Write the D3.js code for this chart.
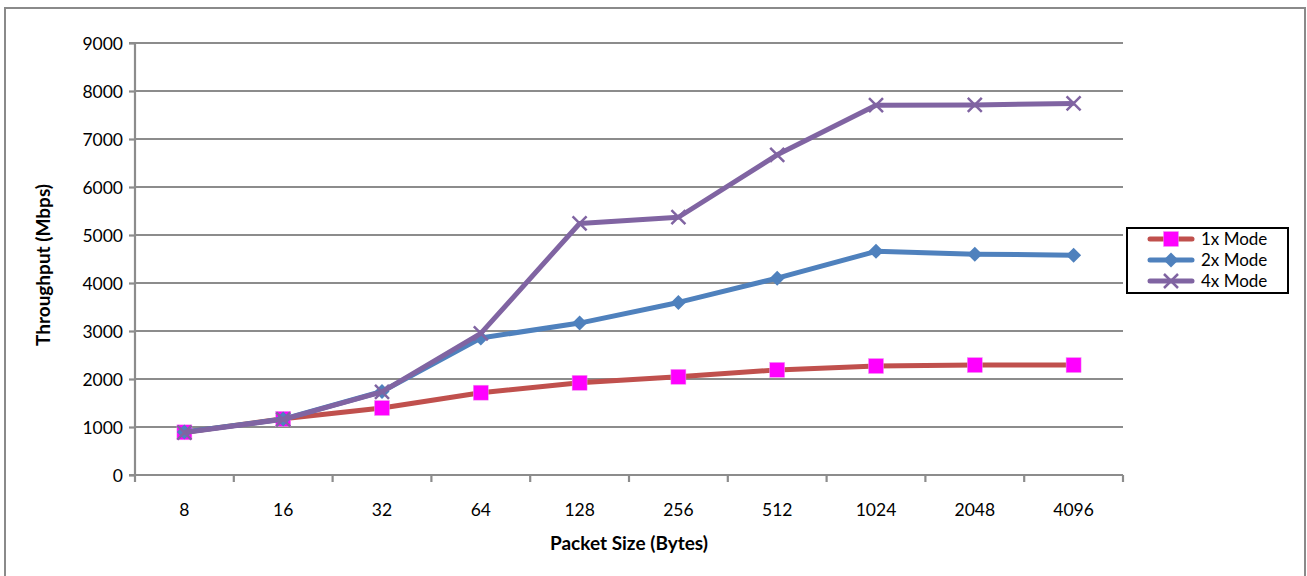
<!DOCTYPE html>
<html><head><meta charset="utf-8">
<script src="https://cdn.jsdelivr.net/npm/d3@7"></script>
<style>body{margin:0;background:#fff}svg{display:block}text{font-family:Lato,"Open Sans",sans-serif}</style>
</head><body><svg id="c" width="1307" height="576"></svg>
<script>
const categories = ["8","16","32","64","128","256","512","1024","2048","4096"];
const mode1x = [889, 1170, 1395, 1715, 1920, 2045, 2190, 2270, 2290, 2290];
const mode2x = [895, 1165, 1740, 2855, 3165, 3595, 4100, 4660, 4600, 4580];
const mode4x = [885, 1160, 1730, 2950, 5240, 5370, 6670, 7705, 7710, 7740];
const yTicks = [0,1000,2000,3000,4000,5000,6000,7000,8000,9000];
const seriesNames = ["1x Mode","2x Mode","4x Mode"];

const series = [
  {name: seriesNames[0], values: mode1x, line: "#C0504D", marker: "square", fill: "#FF00FF"},
  {name: seriesNames[1], values: mode2x, line: "#4F81BD", marker: "diamond", fill: "#4F81BD"},
  {name: seriesNames[2], values: mode4x, line: "#8064A2", marker: "x", fill: "#8064A2"}
];

const svg = d3.select("#c");
const L = 135, R = 1123, T = 43, B = 475;
const x = d3.scaleBand().domain(categories).range([L, R]);
const y = d3.scaleLinear().domain([0, 9000]).range([B, T]);

// outer frame
svg.append("rect").attr("x",5).attr("y",8).attr("width",1300).attr("height",580)
  .attr("fill","none").attr("stroke","#8a8a8a").attr("stroke-width",2);

// gridlines
svg.append("g").selectAll("line").data(yTicks.slice(1)).join("line")
  .attr("x1", L).attr("x2", R).attr("y1", d=>y(d)).attr("y2", d=>y(d))
  .attr("stroke","#8c8c8c").attr("stroke-width",2.2);

// y axis
const yAxis = svg.append("g").attr("transform",`translate(${L},0)`)
  .call(d3.axisLeft(y).tickValues(yTicks).tickSize(6).tickPadding(6).tickFormat(d3.format("d")));
yAxis.select(".domain").attr("stroke","#8c8c8c").attr("stroke-width",2.2).attr("d",`M-6,${T}H0V${B}H-6`);
yAxis.selectAll(".tick line").attr("stroke","#8c8c8c").attr("stroke-width",2.2);
yAxis.selectAll(".tick text").attr("font-size",17.5).attr("fill","#000").attr("dy","0.35em");

// x axis
const xAxis = svg.append("g").attr("transform",`translate(0,${B})`)
  .call(d3.axisBottom(x).tickSize(0).tickPadding(29));
xAxis.select(".domain").attr("stroke","#8c8c8c").attr("stroke-width",2.2).attr("d",`M${L},0H${R}`);
xAxis.selectAll(".tick text").attr("font-size",17.5).attr("fill","#000");
svg.append("g").selectAll("line").data(d3.range(categories.length+1)).join("line")
  .attr("x1", i=>L + i*x.step()).attr("x2", i=>L + i*x.step())
  .attr("y1", B).attr("y2", B+7).attr("stroke","#8c8c8c").attr("stroke-width",2.2);

// axis titles
svg.append("text").attr("x", (L+R)/2).attr("y", 550).attr("text-anchor","middle")
  .attr("font-size",19).attr("font-weight","bold").text("Packet Size (Bytes)");
svg.append("text").attr("transform",`translate(50,${(T+B)/2 + 6}) rotate(-90)`).attr("text-anchor","middle")
  .attr("font-size",19).attr("font-weight","bold").text("Throughput (Mbps)");

function drawMarker(g, type, fill, cx, cy) {
  if (type === "square") {
    g.append("rect").attr("x",cx-7.5).attr("y",cy-7.5).attr("width",15).attr("height",15)
      .attr("fill",fill).attr("stroke","#f0a0f0").attr("stroke-width",0.5);
  } else if (type === "diamond") {
    g.append("path").attr("d",`M${cx},${cy-7.5}L${cx+7.5},${cy}L${cx},${cy+7.5}L${cx-7.5},${cy}Z`).attr("fill",fill);
  } else {
    g.append("path").attr("d",`M${cx-7},${cy-7}L${cx+7},${cy+7}M${cx-7},${cy+7}L${cx+7},${cy-7}`)
      .attr("stroke",fill).attr("stroke-width",2.5).attr("fill","none");
  }
}

const line = d3.line().x((d,i)=>x(categories[i]) + x.bandwidth()/2).y(d=>y(d));
series.forEach(s => {
  const g = svg.append("g");
  g.append("path").datum(s.values).attr("d", line).attr("fill","none")
    .attr("stroke", s.line).attr("stroke-width",5).attr("stroke-linejoin","round");
  s.values.forEach((v,i)=> drawMarker(g, s.marker, s.fill, x(categories[i]) + x.bandwidth()/2, y(v)));
});

// legend
const lg = svg.append("g");
lg.append("rect").attr("x",1127).attr("y",228).attr("width",161).attr("height",65)
  .attr("fill","#fff").attr("stroke","#000").attr("stroke-width",2);
series.forEach((s,i) => {
  const cy = 239 + i*21;
  lg.append("line").attr("x1",1150).attr("x2",1192).attr("y1",cy).attr("y2",cy)
    .attr("stroke",s.line).attr("stroke-width",5).attr("stroke-linecap","round");
  drawMarker(lg, s.marker, s.fill, 1171, cy);
  lg.append("text").attr("x",1201).attr("y",cy).attr("dy","0.35em").attr("font-size",17).text(s.name);
});
</script></body></html>
